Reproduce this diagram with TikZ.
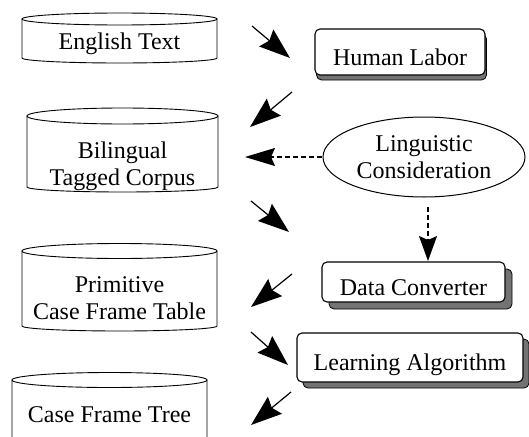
\documentclass[tikz,border=0pt]{standalone}
\usepackage{fontspec}
\setmainfont{Liberation Serif}
\usetikzlibrary{arrows.meta,patterns,shapes.geometric,shadows}
% cylinder outline: x-left, x-right, y of top ellipse centre, top ry, y of bottom of sides
\newcommand\drawcyl[5]{%
  \draw[cylline] (#1,#3) -- (#1,#5) arc[start angle=180,end angle=0,x radius={(#2-#1)/2},y radius=5] -- (#2,#3);
  \draw[cylline] ({(#1+#2)/2},#3) ellipse[x radius={(#2-#1)/2},y radius=#4];
}
\begin{document}
\begin{tikzpicture}[x=1pt,y=-1pt,
  every node/.style={font=\fontsize{24}{27}\selectfont},
  cylline/.style={line width=0.9pt},
  cyltxt/.style={align=center,inner sep=0pt},
  onetxt/.style={text height=15pt,text depth=0pt},
  rbox/.style={draw,line width=1.1pt,rounded corners=5pt,fill=white,inner sep=0pt,
    text height=28pt,text depth=2pt},
  shad/.style 2 args={general shadow={shadow xshift=#1pt,shadow yshift=#2pt,draw,
    line width=0.8pt,fill=black!55}},
  bigarrow/.style={-{Stealth[length=31pt,width=22pt,inset=4pt]},line width=1.2pt},
  dasharrow/.style={-{Stealth[length=#1,width=18pt,inset=4pt]},line width=1.2pt,
    dash pattern=on 5pt off 3pt}]
\useasboundingbox (0,0) rectangle (529,436);
\clip (0,0) rectangle (529,436);

% left column: cylinders
\drawcyl{22}{217}{19}{6}{58}
\drawcyl{27}{218}{116}{8}{187}
\drawcyl{22}{217}{251}{7.5}{326}
\drawcyl{12}{207}{380}{7.5}{445}
\node[cyltxt,onetxt] (eng) at (119.5,42) {English Text};
\node[cyltxt] (bil) at (122.5,165.8) {Bilingual\\Tagged Corpus};
\node[cyltxt] (prim) at (119.5,298.3) {Primitive\\Case Frame Table};
\node[cyltxt,onetxt] (cft) at (109.5,415) {Case Frame Tree};

% right column
\node[rbox,shad={1.5}{-5},minimum width=170pt,minimum height=46pt] (hl) at (400,52) {Human Labor};
\node[draw,ellipse,line width=1pt,minimum width=202pt,minimum height=80pt,inner sep=0pt,align=center]
  (ling) at (424,157) {Linguistic\\Consideration};
\node[rbox,shad={7}{-7},minimum width=183pt,minimum height=40pt] (dc) at (413.5,282) {Data Converter};
\node[rbox,shad={6}{-6},minimum width=226pt,minimum height=49pt] (la) at (410,357.5) {Learning Algorithm};

% arrows
\coordinate (a1s) at (252,26);  \coordinate (a1e) at (290,58);
\coordinate (a2s) at (292,92);  \coordinate (a2e) at (250,127);
\coordinate (a3e) at (245,157);
\coordinate (a4s) at (251,201); \coordinate (a4e) at (289,232);
\coordinate (a5s) at (292,274); \coordinate (a5e) at (251,307);
\coordinate (a6s) at (251,332); \coordinate (a6e) at (288,365);
\coordinate (a7s) at (291,392); \coordinate (a7e) at (251,425);
\coordinate (a8e) at (428,261);

\draw[bigarrow] (a1s) -- (a1e);
\draw[bigarrow] (a2s) -- (a2e);
\draw[dasharrow=30pt] ([xshift=-1pt]ling.west) -- (a3e);
\draw[bigarrow] (a4s) -- (a4e);
\draw[bigarrow] (a5s) -- (a5e);
\draw[bigarrow] (a6s) -- (a6e);
\draw[bigarrow] (a7s) -- (a7e);
\draw[dasharrow=25pt,shorten <=9pt] (ling.south -| a8e) -- (a8e);
\end{tikzpicture}
\end{document}
